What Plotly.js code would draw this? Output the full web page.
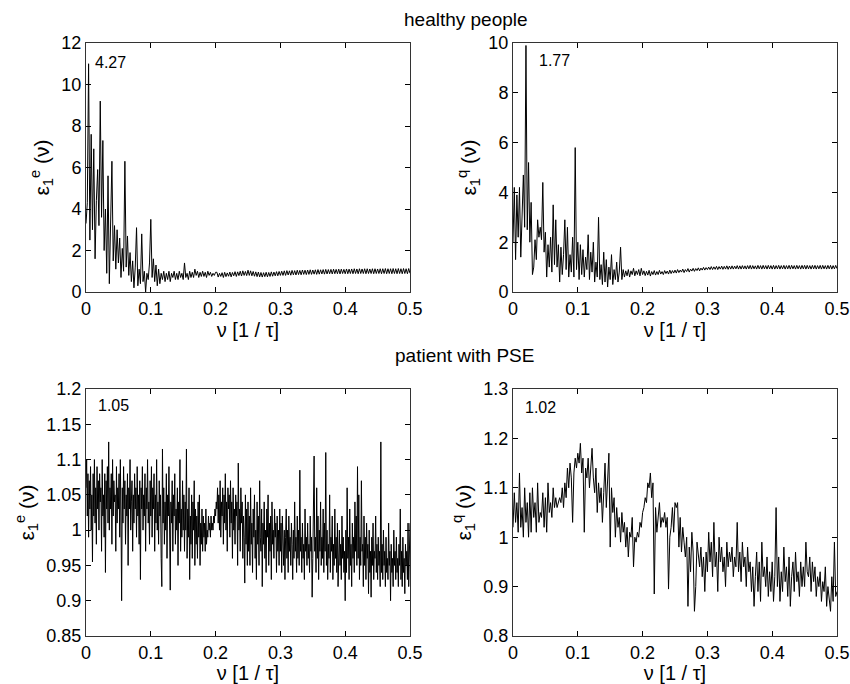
<!DOCTYPE html>
<html>
<head>
<meta charset="utf-8">
<script src="https://cdn.plot.ly/plotly-3.0.1.min.js"></script>
<style>html,body{margin:0;padding:0;background:#fff;}#chart{width:850px;height:684px;}</style>
</head>
<body>
<div id="chart"></div>
<script>
// Highest frequency shown (nu in units of 1/tau)
const freqMax = 0.5;

// Healthy people, epsilon_1^e(nu)
const healthyE = [
3.3,4.3,11.0,2.5,7.6,3.0,6.9,1.6,4.4,5.9,3.2,9.2,3.6,7.3,2.0,4.0,0.9,5.6,0.4,3.7,
6.3,1.5,3.2,1.1,3.0,1.4,2.6,0.7,2.1,1.0,6.3,1.2,2.7,0.8,1.9,0.5,1.5,0.2,1.2,3.1,
0.3,1.1,0.4,2.8,0.5,1.0,0.0,0.9,0.6,1.4,3.5,
0.7,1.6,0.5,1.3,0.3,1.1,0.4,0.9,0.6,1.0,0.5,0.9,0.6,1.0,0.5,0.9,0.7,1.0,0.6,0.9,
0.6,1.0,0.7,0.9,0.6,1.4,0.7,0.9,0.6,1.0,0.7,0.95,0.7,1.1,0.8,1.0,0.7,0.95,0.75,1.0,
0.75,0.95,0.7,1.0,0.8,0.95,0.75,0.9,0.8,0.95,
0.95,0.72,0.9,0.75,0.93,0.7,0.95,0.74,0.92,0.76,0.96,0.73,0.94,0.78,0.98,0.75,0.97,0.79,1.0,0.77,1.02,0.8,0.99,0.79,1.05,
0.8,1.02,0.78,0.99,0.76,0.97,0.74,0.96,0.73,0.94,0.72,0.93,0.74,0.95,0.73,0.94,0.75,0.97,0.76,0.96,0.78,0.98,0.78,0.99,0.8,
1.0,0.8,1.02,0.8,1.03,0.82,1.02,0.81,1.04,0.83,1.03,0.82,1.05,0.84,1.04,0.83,1.06,0.85,1.05,0.84,1.06,0.85,1.07,0.85,1.06,
0.86,1.07,0.85,1.08,0.86,1.07,0.87,1.08,0.86,1.09,0.87,1.08,0.88,1.09,0.87,1.1,0.88,1.09,0.88,1.1,0.87,1.1,0.89,1.09,0.88,
1.11,0.88,1.1,0.89,1.11,0.88,1.12,0.89,1.11,0.88,1.12,0.89,1.11,0.89,1.12,0.88,1.12,0.89,1.11,0.89,1.12,0.88,1.12,0.89,1.11,
0.89,1.12,0.88,1.12,0.89,1.13,0.88,1.12,0.89,1.12,0.88,1.13,0.89,1.12,0.88,1.13,0.89,1.12,0.88,1.13,0.89,1.12,0.88,1.13,0.9
];

// Healthy people, epsilon_1^q(nu)
const healthyQ = [
2.0,4.2,1.3,3.9,2.2,4.2,1.4,3.3,4.7,2.6,9.9,2.5,5.2,2.0,3.6,0.7,1.0,2.1,1.3,2.9,
2.2,2.6,2.1,4.4,1.6,2.4,0.6,1.9,1.0,2.2,0.8,3.5,1.1,2.9,1.0,1.9,0.4,1.8,0.7,1.5,
2.9,0.9,2.6,0.6,1.5,0.8,2.2,0.6,5.8,0.9,2.0,
0.5,1.9,0.7,1.7,0.6,1.4,0.9,2.3,0.5,1.6,0.8,2.0,0.4,1.2,0.6,3.0,0.5,1.1,0.3,1.6,
0.4,1.3,0.2,1.0,0.5,1.5,0.3,0.9,0.5,1.2,0.4,0.8,1.8,0.5,0.9,0.6,0.85,0.65,0.9,0.6,
0.85,0.7,0.95,0.65,0.85,0.7,0.9,0.65,0.95,0.7,
0.85,0.66,0.83,0.68,0.87,0.64,0.82,0.7,0.86,0.68,0.82,0.7,0.87,0.72,0.82,0.7,0.86,0.74,0.84,0.72,0.88,0.74,0.86,0.76,0.88,
0.76,0.9,0.78,0.88,0.8,0.92,0.78,0.9,0.82,0.94,0.8,0.92,0.84,0.95,0.83,0.94,0.86,0.97,0.85,0.96,0.88,0.99,0.88,0.98,0.9,
1.0,0.9,1.02,0.9,1.01,0.91,1.03,0.9,1.02,0.92,1.04,0.91,1.03,0.92,1.05,0.91,1.04,0.92,1.05,0.92,1.04,0.93,1.06,0.92,1.05,
0.92,1.06,0.93,1.05,0.92,1.06,0.93,1.07,0.92,1.06,0.93,1.05,0.92,1.07,0.93,1.06,0.92,1.07,0.93,1.06,0.92,1.07,0.93,1.06,0.92,
1.07,0.92,1.06,0.93,1.07,0.92,1.06,0.93,1.07,0.92,1.06,0.93,1.07,0.92,1.07,0.93,1.06,0.92,1.07,0.93,1.06,0.92,1.07,0.93,1.07,
0.92,1.07,0.93,1.06,0.92,1.07,0.93,1.07,0.92,1.06,0.93,1.07,0.92,1.07,0.93,1.06,0.92,1.07,0.93,1.07,0.92,1.06,0.93,1.07,0.94
];

// Patient with PSE, epsilon_1^e(nu)
const patientE = [
1.06,1.10,1.02,1.08,0.99,1.07,1.03,1.09,1.00,1.05,0.955,1.08,1.02,1.10,1.01,1.06,0.98,1.09,1.03,1.07,
1.00,1.08,1.04,1.06,0.97,1.10,1.02,1.05,0.99,1.08,0.94,1.07,1.03,1.09,1.01,1.125,1.00,1.06,1.03,1.08,
0.98,1.10,1.02,1.07,1.04,1.05,0.97,1.09,1.01,1.06,
1.03,1.08,0.99,1.10,1.02,0.90,1.06,1.01,1.09,1.03,1.07,0.98,1.05,1.02,1.08,0.95,1.06,1.03,1.10,1.00,
1.04,1.07,0.97,1.05,1.01,1.08,1.03,1.06,0.99,1.09,1.02,1.05,0.98,1.07,0.93,1.06,1.03,1.09,1.00,1.05,
1.02,1.08,0.97,1.06,1.03,1.10,1.01,1.04,0.98,1.07,
1.02,1.09,0.99,1.06,1.03,1.08,0.97,1.05,1.01,1.10,1.00,1.04,0.98,1.07,1.02,1.05,0.96,0.92,1.115,1.01,
1.06,0.98,1.04,1.00,1.08,0.96,1.05,1.02,1.09,0.99,0.915,1.04,1.01,1.07,0.97,1.05,1.02,1.08,0.98,1.03,
1.00,1.06,0.95,1.04,1.01,1.10,0.97,1.03,0.99,1.07,
1.00,1.05,0.97,1.04,1.00,1.115,0.96,1.03,0.99,1.06,0.93,1.02,0.98,1.05,0.96,1.04,1.00,1.07,0.95,1.03,
0.98,1.02,0.96,1.04,0.99,1.05,0.95,1.01,0.98,1.03,0.97,1.02,0.99,1.01,0.97,1.03,0.98,1.00,0.99,1.02,
1.00,1.01,0.99,1.02,1.00,1.01,1.00,1.02,1.01,1.03,
1.02,1.04,1.03,1.06,1.01,1.05,1.00,1.07,0.99,1.04,1.02,1.06,0.98,1.05,1.01,1.08,1.00,1.04,0.97,1.06,
1.03,1.05,0.99,1.07,1.01,1.04,0.96,1.06,1.00,1.03,0.98,1.05,1.02,1.04,0.95,1.095,1.00,1.03,0.97,1.06,
1.01,1.04,0.96,1.02,0.99,0.925,1.05,0.98,1.03,0.95,
1.04,0.97,1.02,0.95,1.06,0.98,1.01,0.94,1.03,0.99,1.05,0.96,1.00,0.93,1.04,0.98,1.02,0.95,1.07,0.99,
0.97,1.03,0.92,1.01,0.98,1.04,0.96,1.00,0.94,1.03,0.99,1.05,0.95,1.01,0.97,1.02,0.93,1.04,0.98,1.00,
0.96,1.03,0.99,1.01,0.94,1.02,0.97,1.00,0.95,1.03,
0.97,1.01,0.94,1.02,0.98,0.95,1.00,0.93,0.99,1.03,0.96,1.00,0.94,1.02,0.97,0.99,0.95,1.01,0.98,0.93,
1.00,0.96,1.04,0.97,0.99,0.94,1.02,0.96,1.00,0.95,1.085,0.97,0.99,0.94,1.01,0.96,0.98,0.93,1.03,0.97,
0.99,0.95,1.01,0.96,0.98,0.94,1.02,0.97,0.99,0.905,
0.96,1.01,1.105,0.97,0.99,0.94,1.06,0.96,1.02,0.93,1.00,0.97,1.04,0.95,0.99,0.96,1.03,0.94,1.01,0.97,
1.11,0.95,1.00,0.93,0.98,0.96,1.05,0.94,0.99,0.97,1.02,0.93,0.98,0.95,1.03,0.96,0.99,0.94,1.01,0.92,
0.97,1.00,0.95,0.98,0.93,1.02,0.96,0.99,0.94,0.97,
0.90,1.00,0.94,1.06,0.96,0.99,0.93,1.03,0.95,0.98,0.92,1.01,0.96,0.99,0.94,1.04,0.97,1.02,0.95,1.09,
0.96,1.05,0.93,0.99,0.95,1.07,0.97,0.98,0.92,1.02,0.95,0.99,0.93,1.01,0.96,0.98,0.91,1.00,0.94,0.97,
0.905,0.99,0.95,1.01,0.93,0.97,0.96,1.02,0.94,0.98,
0.93,0.99,0.95,0.97,0.92,1.125,0.94,0.98,0.93,1.00,0.95,0.97,0.92,0.99,0.94,0.96,0.93,1.01,0.95,0.97,
0.90,0.98,0.94,0.96,0.92,1.00,0.95,0.97,0.93,0.99,0.94,0.96,0.92,0.98,0.95,1.03,0.93,0.97,0.92,0.99,
0.94,0.96,0.91,0.98,0.95,0.97,0.93,1.01,0.92,0.96,1.01
];

// Patient with PSE, epsilon_1^q(nu)
const patientQ = [
1.02,1.09,1.03,1.07,1.01,1.13,1.02,1.06,1.00,1.10,1.03,1.07,1.00,1.09,1.01,1.10,1.04,1.07,1.01,1.11,1.03,1.05,1.04,1.09,1.02,
1.08,1.01,1.11,1.05,1.07,1.04,1.10,1.06,1.08,1.06,1.07,1.08,1.07,1.10,1.06,1.11,1.08,1.14,1.10,1.15,1.12,1.03,1.13,1.16,1.14,
1.17,1.15,1.19,1.13,1.16,1.01,1.14,1.12,1.16,1.10,1.15,1.18,1.12,1.09,1.14,1.05,1.11,1.07,1.10,1.03,1.09,1.15,1.06,1.12,1.17,
0.98,1.10,1.05,1.08,1.00,1.06,1.02,1.04,0.99,1.05,1.01,1.03,0.98,1.02,0.96,1.01,1.00,1.04,0.94,1.00,0.99,1.01,1.00,1.03,1.02,
1.05,1.06,1.08,1.07,1.11,1.10,1.13,1.08,1.11,0.885,1.06,1.01,1.04,1.07,1.02,1.04,1.03,1.05,1.02,1.04,0.895,1.00,1.02,1.06,1.01,
1.07,1.06,1.07,0.98,1.04,0.97,1.02,0.99,0.96,1.00,0.86,0.98,0.93,1.01,0.97,0.85,0.90,0.99,0.96,0.94,0.98,0.92,0.96,0.89,0.97,
0.93,1.01,0.95,0.99,0.92,1.03,0.94,0.97,0.89,1.00,0.95,0.98,0.93,0.96,0.90,0.99,0.94,0.97,0.95,0.98,0.92,0.96,0.94,1.03,0.93,
0.97,0.91,0.99,0.94,0.96,0.90,0.98,0.93,0.95,0.89,0.94,0.86,0.92,0.97,0.89,0.95,0.87,0.99,0.92,0.94,0.90,0.96,0.88,0.93,0.89,
0.95,0.87,0.92,1.06,0.90,0.96,0.87,0.93,0.89,0.98,0.91,0.94,0.88,0.96,0.86,0.92,0.95,0.89,0.97,0.91,0.93,0.88,0.95,0.90,0.94,
0.90,0.99,0.93,0.92,0.96,0.89,0.95,0.91,0.94,0.88,0.92,0.90,0.93,0.87,0.91,0.89,0.94,0.86,0.90,0.88,0.85,0.92,0.87,0.99,0.88,0.89
];

const panelValues = ["4.27", "1.77", "1.05", "1.02"];
const groupTitles = ["healthy people", "patient with PSE"];
const xTickVals = [0, 0.1, 0.2, 0.3, 0.4, 0.5];
const xTickText = ["0", "0.1", "0.2", "0.3", "0.4", "0.5"];
const yTicks1 = [0, 2, 4, 6, 8, 10, 12];
const yTicks2 = [0, 2, 4, 6, 8, 10];
const yTicks3 = [0.85, 0.9, 0.95, 1, 1.05, 1.1, 1.15, 1.2];
const yTicks3Text = ["0.85", "0.9", "0.95", "1", "1.05", "1.1", "1.15", "1.2"];
const yTicks4 = [0.8, 0.9, 1, 1.1, 1.2, 1.3];
const yTicks4Text = ["0.8", "0.9", "1", "1.1", "1.2", "1.3"];

function freqGrid(arr) {
  const n = arr.length;
  return arr.map((_, i) => i * freqMax / (n - 1));
}

const FONT = "Liberation Sans, Arial, Helvetica, sans-serif";
const lineStyle = {color: "#000", width: 1};

const traces = [
  {x: freqGrid(healthyE), y: healthyE, xaxis: "x", yaxis: "y"},
  {x: freqGrid(healthyQ), y: healthyQ, xaxis: "x2", yaxis: "y2"},
  {x: freqGrid(patientE), y: patientE, xaxis: "x3", yaxis: "y3"},
  {x: freqGrid(patientQ), y: patientQ, xaxis: "x4", yaxis: "y4"}
].map(t => Object.assign(t, {type: "scatter", mode: "lines", line: lineStyle, hoverinfo: "skip", showlegend: false}));

const W = 850, H = 684;
const colL = [86 / W, 410 / W], colR = [513 / W, 837 / W];
const rowT = [1 - 292 / H, 1 - 43 / H], rowB = [1 - 636 / H, 1 - 389 / H];

function xAxis(domain, anchor) {
  return {
    domain: domain, anchor: anchor, range: [0, 0.5],
    tickvals: xTickVals, ticktext: xTickText,
    ticks: "inside", ticklen: 5, tickcolor: "#000", tickwidth: 1,
    showline: true, linecolor: "#333", linewidth: 1, mirror: "ticks",
    showgrid: false, zeroline: false,
    tickfont: {family: FONT, size: 18, color: "#000"},
    title: {text: "ν [1 / τ]", font: {family: FONT, size: 20, color: "#000"}, standoff: 0},
    automargin: false
  };
}
function yAxis(domain, anchor, range, vals, text, sup) {
  return {
    domain: domain, anchor: anchor, range: range,
    tickvals: vals, ticktext: text,
    ticks: "inside", ticklen: 5, tickcolor: "#000", tickwidth: 1,
    showline: true, linecolor: "#333", linewidth: 1, mirror: "ticks",
    showgrid: false, zeroline: false,
    tickfont: {family: FONT, size: 18, color: "#000"},
    title: {text: "ε<sub>1</sub><sup>" + sup + "</sup> (ν)", font: {family: FONT, size: 21, color: "#000"}, standoff: 6},
    automargin: false
  };
}

const annFont = {family: FONT, size: 16, color: "#000"};
const annotations = [
  {xref: "x domain", yref: "y domain", x: 0.022, y: 0.92, text: panelValues[0]},
  {xref: "x2 domain", yref: "y2 domain", x: 0.074, y: 0.93, text: panelValues[1]},
  {xref: "x3 domain", yref: "y3 domain", x: 0.031, y: 0.935, text: panelValues[2]},
  {xref: "x4 domain", yref: "y4 domain", x: 0.031, y: 0.927, text: panelValues[3]}
].map(a => Object.assign(a, {xanchor: "left", yanchor: "middle", showarrow: false, font: annFont}));
annotations.push(
  {xref: "paper", yref: "paper", x: 466 / W, y: 1 - 20 / H, text: groupTitles[0], showarrow: false, xanchor: "center", yanchor: "middle", font: {family: FONT, size: 19, color: "#000"}},
  {xref: "paper", yref: "paper", x: 464 / W, y: 1 - 355 / H, text: groupTitles[1], showarrow: false, xanchor: "center", yanchor: "middle", font: {family: FONT, size: 19, color: "#000"}}
);

const layout = {
  width: W, height: H,
  margin: {l: 0, r: 0, t: 0, b: 0},
  paper_bgcolor: "#fff", plot_bgcolor: "#fff",
  showlegend: false,
  xaxis: xAxis(colL, "y"),
  yaxis: yAxis(rowT, "x", [0, 12], yTicks1, yTicks1.map(String), "e"),
  xaxis2: xAxis(colR, "y2"),
  yaxis2: yAxis(rowT, "x2", [0, 10], yTicks2, yTicks2.map(String), "q"),
  xaxis3: xAxis(colL, "y3"),
  yaxis3: yAxis(rowB, "x3", [0.85, 1.2], yTicks3, yTicks3Text, "e"),
  xaxis4: xAxis(colR, "y4"),
  yaxis4: yAxis(rowB, "x4", [0.8, 1.3], yTicks4, yTicks4Text, "q"),
  annotations: annotations
};

Plotly.newPlot("chart", traces, layout, {staticPlot: true, displayModeBar: false});
</script>
</body>
</html>
